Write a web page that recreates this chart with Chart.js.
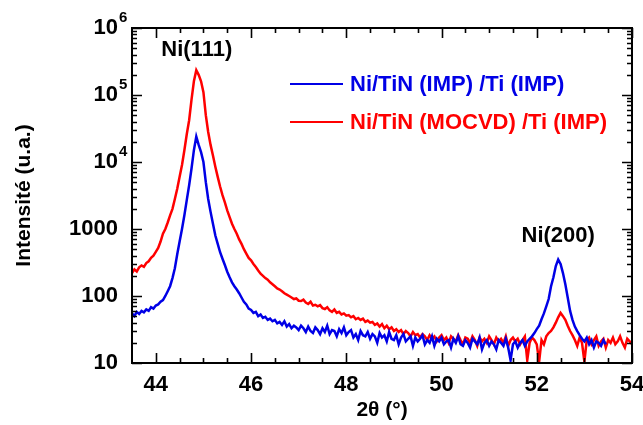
<!DOCTYPE html>
<html>
<head>
<meta charset="utf-8">
<script src="https://cdn.jsdelivr.net/npm/chart.js@4/dist/chart.umd.min.js"></script>
<style>
  body { margin: 0; background: #fff; }
  #wrap { width: 643px; height: 425px; }
</style>
</head>
<body>
<div id="wrap"><canvas id="xrd"></canvas></div>
<script>
// scan grid (2theta, degrees)
const scanStart = 43.5;
const scanStep = 0.05;

// Ni/TiN (IMP) /Ti (IMP)
const blueCounts = [
  55, 50, 58, 54, 60, 57, 63, 60, 68, 65, 72,
  75, 82, 87, 100, 118, 140, 185, 260, 420, 650,
  1000, 1600, 2700, 4500, 8000, 15000, 24000, 18000, 14000, 10000,
  5000, 2800, 1800, 1200, 800, 600, 450, 360, 290, 230,
  190, 160, 140, 125, 110, 95, 82, 75, 65,
  62, 56, 58, 50, 53, 47, 49, 44, 46, 42,
  44, 39, 41, 37, 42, 35, 38, 33, 36, 34,
  31, 36, 33, 29, 35, 30, 28, 34, 31, 27,
  33, 29, 36, 27, 31, 30, 25, 32, 28, 34,
  26, 29, 31, 24, 27, 22, 30, 26, 25, 29,
  23, 27, 25, 20, 28, 24, 26, 21, 29, 23,
  22, 26, 19, 24, 27, 21, 23, 25, 18, 24,
  21, 23, 26, 19, 22, 20, 25, 18, 23, 21,
  24, 19, 21, 22, 17, 23, 20, 25, 19, 18,
  22, 20, 17, 23, 21, 19, 24, 16, 20, 22,
  18, 21, 19, 16, 22, 20, 18, 23, 17, 11,
  19, 21, 17, 20, 22, 18, 21, 23,
  25, 28, 32, 36, 45, 55, 70, 90, 140, 190,
  280, 350, 300, 220, 150, 95, 60, 44, 35, 30,
  26, 23, 21, 24, 19, 22, 17, 21, 20, 18,
  22, 19
];

// Ni/TiN (MOCVD) /Ti (IMP)
const redCounts = [
  220, 250, 232, 268, 285, 272, 310, 330, 372, 400, 455,
  520, 650, 850, 1000, 1250, 1600, 2000, 2800, 4000, 6000,
  9000, 15000, 26000, 42000, 85000, 160000, 235000, 200000, 160000, 110000,
  50000, 28000, 18000, 12500, 8500, 6000, 4300, 3200, 2500, 1900,
  1500, 1200, 1000, 850, 700, 600, 500, 430, 370, 340,
  300, 270, 240, 215, 200, 185, 175, 160, 150, 140,
  130, 125, 118, 110, 105, 100, 95, 90, 92, 85,
  84, 88, 80, 76, 82, 72, 74, 70, 73, 66,
  64, 68, 61, 58, 63, 56, 58, 53, 55, 51,
  52, 48, 50, 45, 47, 44, 46, 41, 43, 40,
  41, 37, 39, 35, 38, 33, 36, 32, 34, 30,
  32, 29, 31, 27, 30, 28, 25, 29, 26, 27,
  24, 27, 25, 22, 26, 23, 25, 21, 24, 26,
  22, 24, 20, 25, 23, 21, 26, 22, 19, 24,
  23, 20, 25, 22, 18, 24, 21, 23, 20, 25,
  22, 19, 24, 21, 23, 20, 25, 18, 22, 24,
  21, 23, 19, 22, 25, 11, 20, 24,
  22, 19, 10.5,
  22, 19, 25, 28, 30, 34, 40, 48, 56, 50,
  44, 36, 30, 26, 22, 18, 24, 20, 10.5, 22,
  24, 19, 22, 25, 18, 21, 23, 17, 22, 20,
  24, 19, 21, 25, 20, 17, 23, 21, 19, 22
];

const xTicks = [44, 46, 48, 50, 52, 54];
const yTicks = [10, 100, 1000, 1e4, 1e5, 1e6];
const yTickLabels = ['10', '100', '1000', '10', '10', '10'];
const yTickExponents = ['', '', '', '4', '5', '6'];

const seriesNames = ['Ni/TiN (IMP) /Ti (IMP)', 'Ni/TiN (MOCVD) /Ti (IMP)'];
const seriesColors = ['#0000e6', '#ff0000'];
const peakLabels = [
  { text: 'Ni(111)', x: 44.86, y: 4.7e5 },
  { text: 'Ni(200)', x: 52.45, y: 800 }
];

function toPoints(counts) {
  let pts = [];
  for (let i = 0; i < counts.length; i++) {
    pts.push({ x: scanStart + i * scanStep, y: counts[i] });
  }
  return pts;
}

const FONT = 'Liberation Sans, Arial, sans-serif';

// frame, inward ticks on all sides, exponents, peak labels and legend
const decorations = {
  id: 'decorations',
  afterDraw(chart) {
    const ctx = chart.ctx;
    const a = chart.chartArea;
    const xs = chart.scales.x, ys = chart.scales.y;
    ctx.save();
    ctx.strokeStyle = '#000';
    ctx.lineWidth = 2;
    ctx.strokeRect(a.left, a.top, a.right - a.left, a.bottom - a.top);

    ctx.lineWidth = 1.6;
    ctx.beginPath();
    for (let v = 44; v <= 54.001; v += 0.5) {
      const px = Math.round(xs.getPixelForValue(v)) + 0.5;
      const len = (v % 2 === 0) ? 10 : 5;
      ctx.moveTo(px, a.bottom); ctx.lineTo(px, a.bottom - len);
      ctx.moveTo(px, a.top); ctx.lineTo(px, a.top + len);
    }
    for (let d = 10; d <= 1e6; d *= 10) {
      for (let m = 1; m <= 9; m++) {
        const v = d * m;
        if (v > 1e6) break;
        const py = Math.round(ys.getPixelForValue(v)) + 0.5;
        const len = m === 1 ? 10 : 5;
        ctx.moveTo(a.left, py); ctx.lineTo(a.left + len, py);
        ctx.moveTo(a.right, py); ctx.lineTo(a.right - len, py);
      }
    }
    ctx.stroke();

    // exponents of the power-of-ten tick labels
    ctx.fillStyle = '#000';
    ctx.font = 'bold 15px ' + FONT;
    ctx.textAlign = 'left';
    ctx.textBaseline = 'middle';
    yTicks.forEach((v, i) => {
      if (yTickExponents[i]) {
        ctx.fillText(yTickExponents[i], a.left - 13, ys.getPixelForValue(v) - 10);
      }
    });

    ctx.font = 'bold 22px ' + FONT;
    ctx.textAlign = 'center';
    peakLabels.forEach(p => {
      ctx.fillText(p.text, xs.getPixelForValue(p.x), ys.getPixelForValue(p.y));
    });

    // legend
    const lx = 290, ly = [84, 122];
    ctx.textAlign = 'left';
    chart.data.datasets.forEach((ds, i) => {
      ctx.strokeStyle = ds.borderColor;
      ctx.lineWidth = 2;
      ctx.beginPath();
      ctx.moveTo(lx, ly[i]); ctx.lineTo(lx + 53, ly[i]);
      ctx.stroke();
      ctx.fillStyle = ds.borderColor;
      ctx.fillText(ds.label, lx + 60, ly[i] + 1);
    });
    ctx.restore();
  }
};

new Chart(document.getElementById('xrd'), {
  type: 'line',
  data: {
    datasets: [
      {
        label: seriesNames[0],
        data: toPoints(blueCounts),
        borderColor: seriesColors[0],
        borderWidth: 2.5,
        pointRadius: 0,
        tension: 0
      },
      {
        label: seriesNames[1],
        data: toPoints(redCounts),
        borderColor: seriesColors[1],
        borderWidth: 2.5,
        pointRadius: 0,
        tension: 0
      }
    ]
  },
  options: {
    responsive: true,
    maintainAspectRatio: false,
    animation: false,
    layout: { padding: { left: 0, top: 28, right: 11, bottom: 0 } },
    plugins: {
      legend: { display: false },
      tooltip: { enabled: false }
    },
    scales: {
      x: {
        type: 'linear',
        min: 43.5,
        max: 54,
        afterBuildTicks: s => { s.ticks = xTicks.map(v => ({ value: v })); },
        afterFit: s => { s.height = 62; s.paddingLeft = 0; s.paddingRight = 0; },
        grid: { display: false },
        border: { display: false },
        ticks: {
          color: '#000',
          padding: 1,
          maxRotation: 0,
          font: { family: FONT, size: 22, weight: 'bold' }
        },
        title: {
          display: true,
          text: '2\u03b8 (\u00b0)',
          color: '#000',
          padding: { top: 0, bottom: 2 },
          font: { family: FONT, size: 21, weight: 'bold' }
        }
      },
      y: {
        type: 'logarithmic',
        min: 10,
        max: 1e6,
        afterBuildTicks: s => { s.ticks = yTicks.map(v => ({ value: v })); },
        afterFit: s => { s.width = 132; s.paddingTop = 0; s.paddingBottom = 0; },
        grid: { display: false },
        border: { display: false },
        ticks: {
          color: '#000',
          padding: 6,
          font: { family: FONT, size: 22, weight: 'bold' },
          callback: (v) => yTickLabels[yTicks.indexOf(v)]
        },
        title: {
          display: true,
          text: 'Intensit\u00e9 (u.a.)',
          color: '#000',
          padding: 12,
          font: { family: FONT, size: 21, weight: 'bold' }
        }
      }
    }
  },
  plugins: [decorations]
});
</script>
</body>
</html>
